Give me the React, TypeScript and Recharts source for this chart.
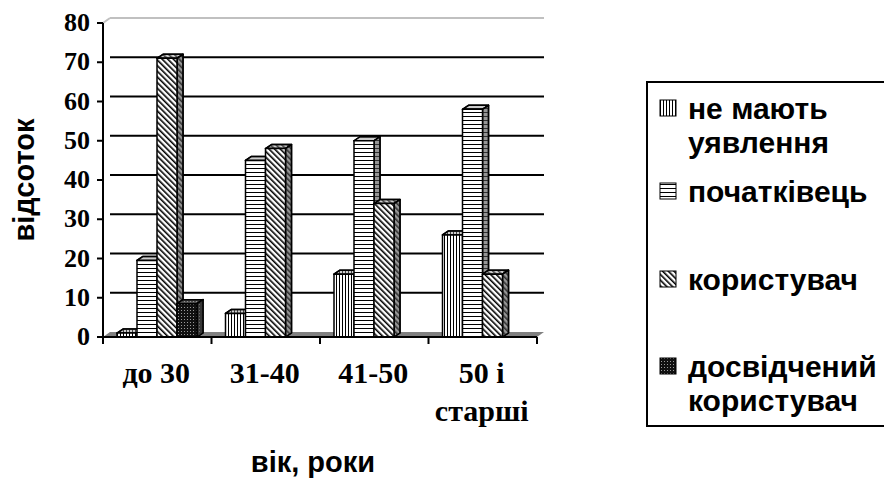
import { Bar, BarChart, CartesianGrid, XAxis, YAxis } from "recharts";

const AGES = ["до 30", "31-40", "41-50", "50 і старші"];
const AGE_LABELS = [["до 30"], ["31-40"], ["41-50"], ["50 і", "старші"]];

const NO_IDEA = [1, 6, 16, 26];
const BEGINNER = [19.5, 45, 50, 58];
const USER = [71, 48, 34, 16];
const EXPERT = [8.5, 0, 0, 0];

const SERIES_LABELS = [
  ["не мають", "уявлення"],
  ["початківець"],
  ["користувач"],
  ["досвідчений", "користувач"],
];
const Y_TICKS = [0, 10, 20, 30, 40, 50, 60, 70, 80];

const data = AGES.map((age, i) => ({
  age,
  noIdea: NO_IDEA[i],
  beginner: BEGINNER[i],
  user: USER[i],
  expert: EXPERT[i],
}));

const SERIES = [
  { key: "noIdea", pattern: "pat-vert" },
  { key: "beginner", pattern: "pat-horz" },
  { key: "user", pattern: "pat-diag" },
  { key: "expert", pattern: "pat-dots" },
];

// plot box and 3d offsets
const PLOT = { top: 23, bottom: 337 };
const WALL = { dx: 7, dy: 5 };
const DEPTH = { dx: 6, dy: 4 };

const SERIF = "'Liberation Serif', 'Times New Roman', serif";
const SANS = "'Liberation Sans', Arial, sans-serif";

function Bar3D(props: any) {
  const { x, y, width, height, patternId } = props;
  if (!height || height <= 0) return <g />;
  const { dx, dy } = DEPTH;
  const front = `M${x},${y}h${width}v${height}h${-width}Z`;
  const top = `M${x},${y}l${dx},${-dy}h${width}l${-dx},${dy}Z`;
  const side = `M${x + width},${y}l${dx},${-dy}v${height}l${-dx},${dy}Z`;
  const fill = `url(#${patternId})`;
  return (
    <g stroke="#000" strokeWidth={1.5} strokeLinejoin="round">
      <path d={top} fill={fill} />
      <path d={top} fill="#909090" fillOpacity={0.45} />
      <path d={side} fill={fill} />
      <path d={side} fill="#505050" fillOpacity={0.6} />
      <path d={front} fill={fill} />
    </g>
  );
}

function GridLine(props: any) {
  const { x1, y1, x2, y2 } = props;
  const { dx, dy } = WALL;
  if (Math.abs(y1 - PLOT.bottom) < 1) {
    return (
      <polygon
        points={`${x1},${y1} ${x1 + dx},${y1 - dy} ${x2 + dx},${y2 - dy} ${x2},${y2}`}
        fill="#808080"
      />
    );
  }
  if (Math.abs(y1 - PLOT.top) < 1) {
    return (
      <g stroke="#c0c0c0" strokeWidth={2} fill="none">
        <line x1={x1} y1={y1} x2={x1 + dx} y2={y1 - dy} />
        <line x1={x1 + dx} y1={y1 - dy} x2={x2 + dx} y2={y2 - dy} />
      </g>
    );
  }
  return (
    <line
      x1={x1 + dx}
      y1={y1 - dy}
      x2={x2 + dx}
      y2={y2 - dy}
      stroke="#000"
      strokeWidth={2}
    />
  );
}

function AgeTick(props: any) {
  const { x, y, payload, index } = props;
  const half = payload.offset ?? 0;
  const lines = AGE_LABELS[index] ?? [payload.value];
  return (
    <g>
      <line x1={x - half} y1={y} x2={x - half} y2={y + 7} stroke="#000" strokeWidth={2} />
      {index === AGES.length - 1 && (
        <line x1={x + half} y1={y} x2={x + half} y2={y + 7} stroke="#000" strokeWidth={2} />
      )}
      <text
        x={x - 1}
        y={y + 46}
        textAnchor="middle"
        fontFamily={SERIF}
        fontWeight="bold"
        fontSize={30}
        fill="#000"
      >
        {lines.map((line, i) => (
          <tspan key={line} x={x - 1} dy={i === 0 ? 0 : 38}>
            {line}
          </tspan>
        ))}
      </text>
    </g>
  );
}

function ValueTick(props: any) {
  const { x, y, payload } = props;
  return (
    <text
      x={x}
      y={y}
      dy={8}
      textAnchor="end"
      fontFamily={SERIF}
      fontWeight="bold"
      fontSize={26}
      fill="#000"
    >
      {payload.value}
    </text>
  );
}

function Patterns() {
  return (
    <svg width={0} height={0} style={{ position: "absolute" }}>
      <defs>
        <pattern id="pat-vert" width={3} height={3} patternUnits="userSpaceOnUse">
          <rect width={3} height={3} fill="#fff" />
          <line x1={0.5} y1={0} x2={0.5} y2={3} stroke="#000" strokeWidth={1} />
        </pattern>
        <pattern id="pat-horz" width={4} height={4} patternUnits="userSpaceOnUse">
          <rect width={4} height={4} fill="#fff" />
          <line x1={0} y1={0.5} x2={4} y2={0.5} stroke="#000" strokeWidth={1} />
        </pattern>
        <pattern
          id="pat-diag"
          width={4}
          height={4}
          patternUnits="userSpaceOnUse"
          patternTransform="rotate(-45)"
        >
          <rect width={4} height={4} fill="#fff" />
          <line x1={0.8} y1={0} x2={0.8} y2={4} stroke="#000" strokeWidth={1.6} />
        </pattern>
        <pattern id="pat-dots" width={3} height={3} patternUnits="userSpaceOnUse">
          <rect width={3} height={3} fill="#111" />
          <rect x={1} y={1} width={1} height={1} fill="#9a9a9a" />
        </pattern>
      </defs>
    </svg>
  );
}

const LEGEND_BASELINES = [119, 202, 290, 377];

function LegendBox() {
  return (
    <svg
      width={892}
      height={486}
      style={{ position: "absolute", left: 0, top: 0, pointerEvents: "none" }}
    >
      <rect x={647} y={82} width={260} height={344} fill="#fff" stroke="#000" strokeWidth={2} />
      {SERIES.map((s, i) => {
        const base = LEGEND_BASELINES[i];
        return (
          <g key={s.key}>
            <rect
              x={660}
              y={base - 19}
              width={16}
              height={16}
              fill={`url(#${s.pattern})`}
              stroke="#000"
              strokeWidth={1}
            />
            <text
              x={688}
              y={base}
              fontFamily={SANS}
              fontWeight="bold"
              fontSize={30}
              fill="#000"
            >
              {SERIES_LABELS[i].map((line, j) => (
                <tspan key={j} x={688} dy={j === 0 ? 0 : 34}>
                  {line}
                </tspan>
              ))}
            </text>
          </g>
        );
      })}
    </svg>
  );
}

export default function App() {
  return (
    <div style={{ position: "relative", width: 892, height: 486, margin: -8, background: "#fff" }}>
      <Patterns />
      <BarChart
        width={892}
        height={486}
        data={data}
        margin={{ top: PLOT.top, right: 355, bottom: 0, left: 0 }}
        barCategoryGap={14}
        barGap={0}
      >
        <CartesianGrid
          vertical={false}
          horizontal={(p: any) => <GridLine key={p.key ?? `g-${p.index}`} {...p} />}
        />
        <XAxis
          dataKey="age"
          interval={0}
          height={149}
          tickSize={0}
          tickMargin={0}
          tick={AgeTick}
          axisLine={{ stroke: "#000", strokeWidth: 2 }}
          tickLine={false}
          label={{
            content: (p: any) => (
              <text
                x={p.viewBox.x + p.viewBox.width / 2 - 7}
                y={p.viewBox.y + 135}
                textAnchor="middle"
                fontFamily={SANS}
                fontWeight="bold"
                fontSize={29}
                fill="#000"
              >
                вік, роки
              </text>
            ),
          }}
        />
        <YAxis
          domain={[0, 80]}
          ticks={Y_TICKS}
          width={103}
          tickSize={6}
          tickMargin={7}
          axisLine={{ stroke: "#000", strokeWidth: 2 }}
          tickLine={{ stroke: "#000", strokeWidth: 2 }}
          tick={ValueTick}
          label={{
            content: (p: any) => {
              const cx = p.viewBox.x + 34;
              const cy = p.viewBox.y + p.viewBox.height / 2;
              return (
                <text
                  x={cx}
                  y={cy}
                  transform={`rotate(-90 ${cx} ${cy})`}
                  textAnchor="middle"
                  fontFamily={SANS}
                  fontWeight="bold"
                  fontSize={29}
                  fill="#000"
                >
                  відсоток
                </text>
              );
            },
          }}
        />
        {SERIES.map((s) => (
          <Bar
            key={s.key}
            dataKey={s.key}
            isAnimationActive={false}
            shape={(p: any) => <Bar3D {...p} patternId={s.pattern} />}
          />
        ))}
      </BarChart>
      <LegendBox />
    </div>
  );
}
